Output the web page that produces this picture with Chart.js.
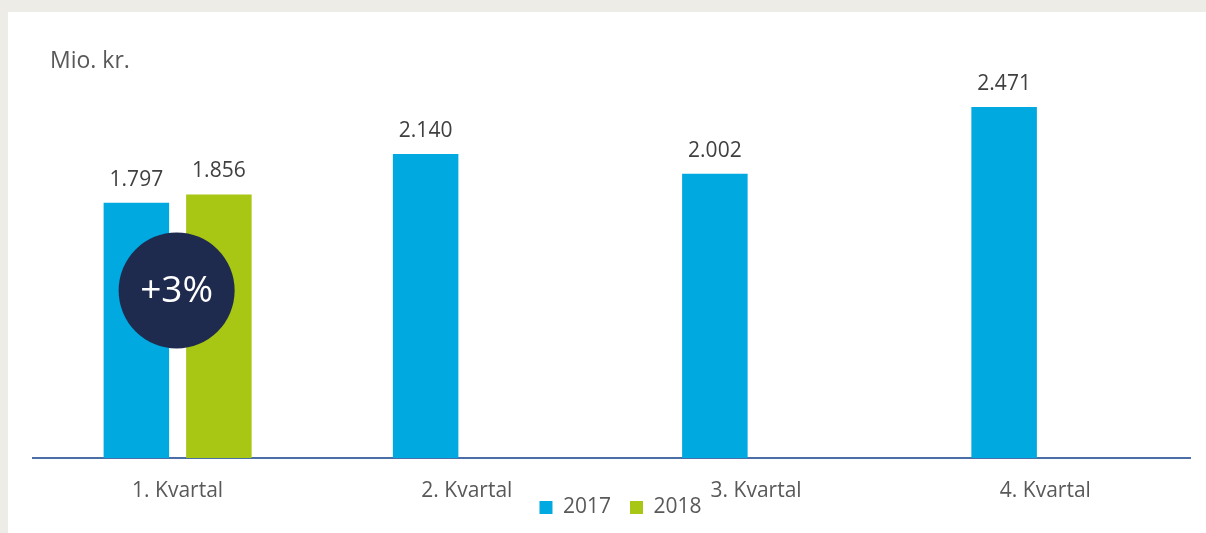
<!DOCTYPE html>
<html>
<head>
<meta charset="utf-8">
<script src="https://cdn.jsdelivr.net/npm/chart.js@4/dist/chart.umd.min.js"></script>
<style>
  html, body { margin: 0; padding: 0; background: #edece7; }
  #panel { position: absolute; left: 8px; top: 12px; width: 1198px; height: 521px; background: #ffffff; }
</style>
</head>
<body>
<div id="panel"><canvas id="chart" width="1198" height="521"></canvas></div>
<script>
var quarters = ['1. Kvartal', '2. Kvartal', '3. Kvartal', '4. Kvartal'];
var values2017 = [1797, 2140, 2002, 2471];
var values2018 = [1856, null, null, null];
var seriesNames = ['2017', '2018'];
var unitLabel = 'Mio. kr.';
var changeText = '+3%';

var FONT = '"Open Sans", "Noto Sans", sans-serif';
var LEGEND_PAD = 19;

function formatDa(v) {
  // Danish thousands separator
  return String(v).replace(/\B(?=(\d{3})+(?!\d))/g, '.');
}

var valueLabels = {
  id: 'valueLabels',
  afterLayout: function (chart) {
    // legend sits level with the tick labels, not below them
    var lg = chart.legend;
    if (!lg) return;
    lg.top = 466;
    lg.height = 48;
    lg.bottom = lg.top + lg.height;
    lg.left += 9;
    lg.right += 9;
  },
  afterDatasetsDraw: function (chart) {
    var ctx = chart.ctx;
    ctx.save();
    ctx.font = '21px ' + FONT;
    ctx.fillStyle = '#404040';
    ctx.textAlign = 'center';
    ctx.textBaseline = 'alphabetic';
    chart.data.datasets.forEach(function (ds, i) {
      var meta = chart.getDatasetMeta(i);
      meta.data.forEach(function (bar, j) {
        var v = ds.data[j];
        if (v === null || v === undefined) return;
        ctx.fillText(formatDa(v), bar.x, bar.y - 17);
      });
    });

    // change badge on 1. Kvartal
    var x = chart.scales.x.getPixelForValue(0);
    var y = chart.scales.y.getPixelForValue(1180);
    ctx.beginPath();
    ctx.arc(x - 1, y, 58, 0, Math.PI * 2);
    ctx.fillStyle = '#1f2a4f';
    ctx.fill();
    ctx.fillStyle = '#ffffff';
    ctx.font = '37px ' + FONT;
    ctx.textBaseline = 'middle';
    ctx.fillText(changeText, x - 1, y + 1);

    // unit label
    ctx.font = '23px ' + FONT;
    ctx.fillStyle = '#595959';
    ctx.textAlign = 'left';
    ctx.textBaseline = 'alphabetic';
    ctx.fillText(unitLabel, 42, 56);
    ctx.restore();
  }
};

new Chart(document.getElementById('chart').getContext('2d'), {
  type: 'bar',
  data: {
    labels: quarters,
    datasets: [
      { label: seriesNames[0], data: values2017, backgroundColor: '#00a9e0', borderWidth: 0 },
      { label: seriesNames[1], data: values2018, backgroundColor: '#a8c614', borderWidth: 0 }
    ]
  },
  options: {
    responsive: false,
    animation: false,
    layout: { padding: { left: 25, right: 16, top: 20, bottom: 0 } },
    datasets: { bar: { categoryPercentage: 0.5705, barPercentage: 0.794 } },
    plugins: {
      tooltip: { enabled: false },
      legend: {
        position: 'bottom',
        maxHeight: 31,
        labels: {
          boxWidth: 13,
          boxHeight: 13,
          padding: LEGEND_PAD,
          color: '#595959',
          font: { family: FONT, size: 21 }
        }
      }
    },
    scales: {
      x: {
        grid: { display: false, drawTicks: false },
        border: { display: true, color: '#4a6ea5', width: 2 },
        ticks: { padding: 20, color: '#595959', font: { family: FONT, size: 21 } },
        afterFit: function (scale) { scale.height = 44; }
      },
      y: {
        display: false,
        min: 0,
        max: 3000
      }
    }
  },
  plugins: [valueLabels]
});
</script>
</body>
</html>
